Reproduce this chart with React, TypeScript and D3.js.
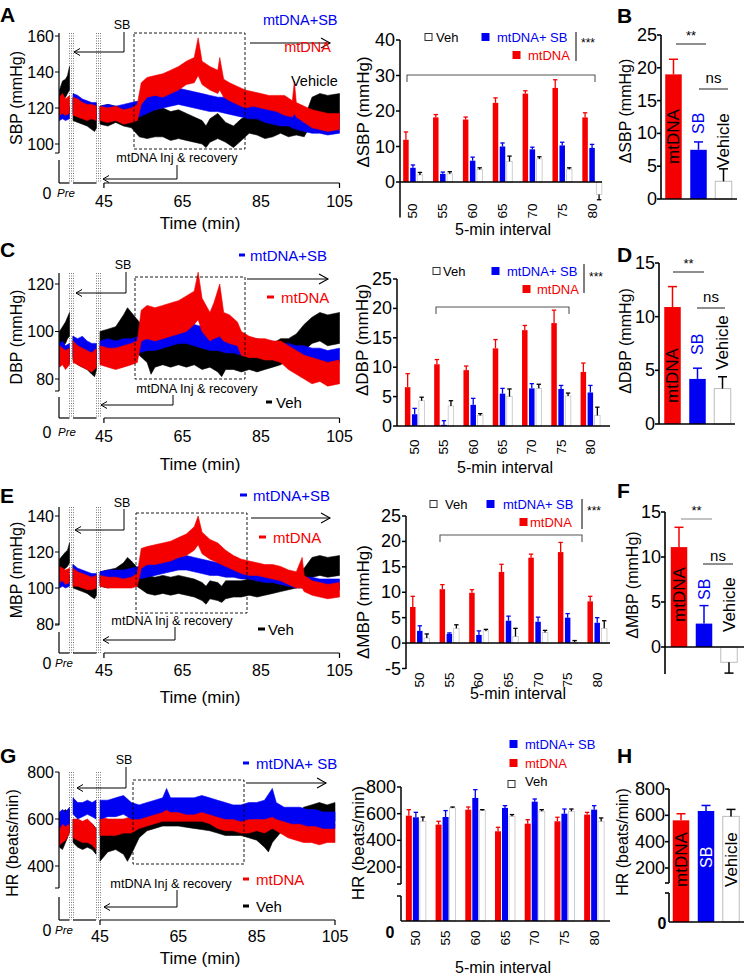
import React from 'react';
import * as d3 from 'd3';

const FONT = "'Liberation Sans', Arial, Helvetica, sans-serif";
const RED = '#f40000';
const BLUE = '#0000f2';
const BLACK = '#000000';

// ---------- data ----------
const intervals = ['50', '55', '60', '65', '70', '75', '80'];
const summaryGroups = ['mtDNA', 'SB', 'Vehicle'];
const timeTicks = [45, 65, 85, 105];
const sbpTicks = [100, 120, 140, 160];
const dbpTicks = [80, 100, 120];
const mbpTicks = [80, 100, 120, 140];
const hrTicks = [400, 600, 800];

// traces: [time, low, high]
const sbpVehTrace = [
  [0, 122, 130], [3, 124, 135], [6, 126, 136], [8, 128, 138], [10, 130, 143],
  [15, 113, 126], [20, 112, 124], [25, 111, 122], [30, 110, 121], [35, 108, 119], [38, 107, 118], [40, 109, 120],
  [44, 111, 121], [46, 110, 122], [48, 112, 121], [50, 110, 120], [52, 109, 121], [54, 104, 116], [56, 103, 118], [58, 104, 119], [60, 104, 120], [62, 102, 118], [64, 103, 119], [66, 102, 117], [68, 101, 115], [70, 100, 113], [71, 98, 110], [72, 101, 114], [74, 103, 117], [76, 101, 112], [78, 98, 110], [80, 102, 114], [82, 106, 116], [84, 105, 117], [86, 103, 115], [88, 104, 114], [90, 106, 116], [92, 104, 113], [94, 105, 112], [96, 104, 114], [98, 112, 126], [100, 115, 128], [102, 113, 127], [105, 114, 128],
];
const sbpSbTrace = [
  [0, 113, 121], [3, 114, 122], [6, 113, 120], [10, 114, 121],
  [15, 117, 128], [20, 118, 127], [25, 116, 125], [30, 117, 124], [35, 115, 123], [40, 114, 123],
  [44, 113, 121], [46, 114, 122], [48, 113, 121], [50, 113, 122], [52, 115, 123], [54, 115, 124], [56, 117, 126], [58, 119, 128], [60, 120, 129], [62, 121, 130], [64, 122, 131], [66, 121, 130], [68, 120, 129], [70, 119, 128], [72, 118, 127], [74, 118, 126], [76, 117, 126], [78, 116, 125], [80, 115, 124], [82, 114, 122], [84, 114, 121], [86, 112, 121], [88, 111, 120], [90, 110, 119], [92, 110, 118], [94, 108, 117], [96, 107, 116], [98, 106, 114], [100, 106, 114], [102, 105, 113], [105, 106, 114],
];
const sbpMtTrace = [
  [0, 116, 126], [3, 117, 128], [6, 116, 125], [10, 117, 127],
  [15, 116, 126], [20, 115, 125], [25, 114, 123], [30, 113, 122], [35, 114, 122], [40, 113, 121],
  [44, 113, 121], [46, 112, 120], [48, 113, 121], [50, 111, 119], [52, 112, 120], [53.5, 113, 122], [54.5, 122, 134], [56, 126, 137], [58, 127, 138], [60, 126, 139], [62, 128, 141], [64, 130, 143], [66, 133, 146], [68, 134, 148], [69, 138, 159], [70, 133, 146], [72, 130, 143], [74, 128, 141], [74.5, 130, 148], [75.5, 126, 136], [77, 124, 134], [79, 122, 132], [81, 120, 130], [83, 121, 129], [85, 120, 128], [87, 119, 127], [89, 118, 127], [91, 116, 127], [93, 115, 124], [93.5, 117, 135], [94, 115, 123], [96, 112, 121], [98, 109, 119], [100, 108, 118], [102, 107, 117], [105, 108, 117],
];

const dbpVehTrace = [
  [0, 92, 100], [3, 94, 102], [6, 95, 104], [8, 97, 106], [10, 98, 108],
  [15, 88, 98], [20, 86, 96], [25, 85, 95], [30, 84, 93], [35, 82, 91], [38, 81, 89], [40, 84, 92],
  [44, 92, 100], [46, 90, 101], [48, 91, 102], [50, 93, 107], [51, 95, 110], [52, 94, 108], [54, 90, 104], [56, 87, 100], [57, 82, 96], [58, 85, 98], [60, 86, 99], [62, 85, 97], [64, 86, 98], [66, 85, 97], [68, 86, 98], [70, 84, 96], [72, 85, 96], [74, 83, 95], [75, 81, 93], [76, 84, 95], [78, 84, 96], [80, 83, 94], [82, 84, 94], [84, 83, 93], [86, 84, 95], [88, 85, 95], [90, 86, 97], [92, 88, 97], [94, 90, 99], [96, 92, 103], [98, 95, 106], [100, 96, 108], [102, 94, 107], [105, 95, 108],
];
const dbpSbTrace = [
  [0, 86, 95], [3, 87, 96], [6, 86, 94], [10, 87, 95],
  [15, 89, 98], [20, 90, 97], [25, 90, 98], [30, 89, 96], [35, 88, 95], [40, 88, 95],
  [44, 88, 96], [46, 89, 97], [48, 89, 96], [50, 89, 97], [52, 90, 97], [54, 91, 98], [56, 92, 99], [58, 92, 100], [60, 93, 101], [62, 94, 102], [64, 95, 103], [66, 95, 104], [68, 94, 103], [70, 93, 102], [72, 92, 101], [74, 92, 100], [76, 91, 99], [78, 91, 98], [80, 90, 98], [82, 90, 97], [84, 90, 97], [86, 89, 96], [88, 89, 96], [90, 88, 95], [92, 88, 95], [94, 87, 94], [96, 87, 94], [98, 86, 93], [100, 86, 93], [102, 86, 92], [105, 87, 93],
];
const dbpMtTrace = [
  [0, 85, 94], [3, 86, 93], [6, 84, 92], [10, 86, 93],
  [15, 87, 96], [20, 86, 94], [25, 85, 93], [30, 84, 92], [35, 83, 91], [40, 85, 93],
  [44, 86, 94], [46, 85, 93], [48, 84, 93], [50, 85, 94], [52, 86, 95], [53.5, 87, 96], [54.5, 96, 109], [56, 97, 111], [58, 96, 110], [60, 97, 111], [62, 98, 112], [64, 99, 113], [66, 100, 115], [68, 103, 117], [69, 105, 125], [70, 100, 114], [72, 96, 108], [73, 97, 112], [74.5, 98, 120], [75.5, 96, 108], [77, 95, 107], [79, 94, 104], [80, 90, 100], [82, 89, 98], [84, 89, 97], [86, 88, 97], [88, 88, 96], [90, 87, 96], [92, 84, 94], [94, 82, 92], [96, 80, 90], [98, 78, 89], [100, 79, 88], [102, 77, 87], [105, 78, 88],
];

const mbpVehTrace = [
  [0, 108, 116], [3, 110, 118], [6, 111, 120], [8, 112, 121], [10, 114, 125],
  [15, 100, 113], [20, 99, 110], [25, 98, 109], [30, 97, 107], [35, 95, 105], [38, 94, 103], [40, 96, 106],
  [44, 101, 109], [46, 100, 110], [48, 101, 111], [50, 103, 114], [51, 104, 117], [52, 103, 115], [54, 100, 110], [56, 97, 107], [58, 96, 106], [60, 97, 107], [62, 96, 106], [64, 97, 107], [66, 96, 106], [68, 95, 105], [70, 93, 103], [71, 91, 101], [72, 94, 104], [74, 93, 103], [75, 92, 101], [76, 94, 104], [78, 95, 104], [80, 95, 104], [82, 96, 105], [84, 95, 104], [86, 96, 105], [88, 97, 106], [90, 98, 107], [92, 99, 107], [94, 100, 108], [96, 102, 111], [98, 106, 117], [100, 107, 118], [102, 106, 117], [105, 107, 118],
];
const mbpSbTrace = [
  [0, 100, 107], [3, 101, 107], [6, 100, 106], [10, 101, 107],
  [15, 103, 113], [20, 103, 111], [25, 102, 110], [30, 102, 109], [35, 101, 108], [40, 101, 108],
  [44, 103, 109], [46, 103, 110], [48, 103, 110], [50, 104, 110], [52, 104, 111], [54, 105, 112], [56, 106, 113], [58, 107, 114], [60, 108, 116], [62, 109, 117], [64, 110, 117], [66, 110, 118], [68, 109, 117], [70, 108, 116], [72, 107, 115], [74, 107, 114], [76, 106, 113], [78, 106, 113], [80, 105, 112], [82, 105, 111], [84, 104, 111], [86, 103, 110], [88, 103, 109], [90, 102, 109], [92, 101, 108], [94, 100, 107], [96, 100, 106], [98, 99, 106], [100, 99, 105], [102, 98, 105], [105, 99, 105],
];
const mbpMtTrace = [
  [0, 103, 112], [3, 104, 111], [6, 102, 110], [10, 103, 111],
  [15, 101, 111], [20, 101, 109], [25, 100, 108], [30, 99, 107], [35, 99, 106], [40, 100, 107],
  [44, 101, 107], [46, 100, 106], [48, 100, 106], [50, 100, 105], [52, 100, 106], [53.5, 101, 108], [54.5, 111, 122], [56, 113, 123], [58, 113, 124], [60, 114, 125], [62, 115, 126], [64, 117, 128], [66, 118, 130], [68, 121, 134], [69, 124, 140], [70, 119, 131], [72, 116, 127], [74, 114, 125], [76, 112, 121], [78, 110, 118], [80, 108, 116], [82, 107, 115], [84, 107, 114], [86, 106, 113], [88, 105, 113], [90, 104, 112], [92, 102, 110], [94, 100, 109], [95.5, 100, 117], [96, 98, 107], [98, 96, 104], [100, 95, 103], [102, 94, 102], [105, 95, 103],
];

const hrVehTrace = [
  [0, 480, 600], [3, 470, 630], [6, 500, 640], [8, 520, 630], [10, 550, 640],
  [15, 500, 600], [20, 480, 590], [25, 470, 580], [30, 480, 590], [35, 470, 580], [39, 450, 560],
  [45, 420, 600], [47, 460, 590], [49, 470, 580], [51, 450, 570], [52, 420, 560], [53, 450, 580], [55, 520, 600], [57, 550, 610], [59, 560, 610], [61, 570, 610], [63, 570, 615], [65, 570, 615], [67, 565, 610], [69, 560, 610], [71, 555, 605], [73, 550, 600], [75, 540, 595], [77, 530, 590], [79, 530, 590], [81, 530, 580], [83, 520, 580], [85, 510, 570], [87, 480, 560], [88, 460, 550], [89, 500, 570], [91, 540, 600], [93, 550, 610], [95, 560, 620], [97, 580, 650], [99, 590, 660], [101, 590, 670], [103, 580, 660], [105, 590, 670],
];
const hrMtTrace = [
  [0, 490, 620], [3, 500, 600], [6, 510, 620], [10, 540, 640],
  [15, 520, 600], [20, 510, 600], [25, 500, 590], [30, 500, 600], [35, 490, 580], [39, 470, 560],
  [45, 530, 610], [47, 530, 600], [49, 530, 600], [51, 540, 600], [53, 540, 610], [55, 560, 630], [57, 570, 640], [59, 580, 650], [61, 590, 660], [63, 590, 670], [65, 590, 670], [67, 590, 670], [69, 590, 670], [71, 590, 670], [73, 580, 660], [75, 560, 640], [77, 550, 630], [79, 550, 620], [81, 540, 610], [83, 540, 610], [85, 550, 620], [87, 540, 610], [89, 560, 640], [91, 540, 620], [93, 520, 600], [95, 510, 590], [97, 500, 580], [99, 500, 580], [101, 490, 570], [103, 500, 580], [105, 500, 580],
];
const hrSbTrace = [
  [0, 560, 630], [3, 580, 640], [6, 570, 630], [10, 580, 650],
  [15, 620, 690], [20, 600, 670], [25, 610, 670], [30, 620, 680], [35, 610, 670], [39, 600, 680],
  [45, 600, 680], [47, 610, 680], [49, 610, 690], [51, 620, 700], [53, 600, 670], [55, 600, 660], [57, 610, 670], [59, 620, 680], [61, 630, 690], [62, 640, 730], [63, 630, 690], [65, 630, 690], [67, 620, 690], [69, 620, 690], [71, 630, 700], [73, 620, 690], [75, 610, 680], [77, 600, 670], [79, 600, 660], [81, 590, 660], [83, 600, 670], [85, 600, 670], [87, 600, 680], [89, 610, 730], [90, 600, 670], [92, 590, 650], [94, 580, 650], [96, 580, 650], [98, 570, 640], [100, 570, 640], [102, 560, 630], [105, 560, 630],
];

// 5-min interval bars (mean, SEM)
const sbpMt = [11.9, 18.2, 17.6, 22.3, 24.9, 26.5, 18.2];
const sbpMtSem = [2.2, 0.8, 0.7, 1.4, 0.8, 2.3, 1.3];
const sbpSb = [4.0, 2.3, 6.0, 10.0, 9.2, 10.3, 9.6];
const sbpSbSem = [0.8, 0.5, 1.0, 1.0, 0.6, 0.9, 1.0];
const sbpVeh = [2.0, 2.3, 3.5, 5.8, 6.5, 3.6, -3.5];
const sbpVehSem = [0.7, 0.6, 0.5, 1.5, 0.6, 0.4, 1.5];

const dbpMt = [6.6, 10.5, 9.5, 13.2, 16.3, 17.5, 9.2];
const dbpMtSem = [2.3, 0.8, 0.7, 1.5, 0.8, 2.2, 1.5];
const dbpSb = [2.0, 0.2, 3.6, 5.5, 6.4, 6.3, 5.7];
const dbpSbSem = [1.0, 0.7, 1.1, 0.9, 0.8, 0.6, 1.2];
const dbpVeh = [4.3, 3.4, 1.8, 5.0, 6.4, 5.1, 1.8];
const dbpVehSem = [0.6, 0.9, 0.3, 1.3, 0.7, 0.5, 1.4];

const mbpMt = [7.1, 10.6, 9.9, 14.0, 16.8, 17.9, 8.2];
const mbpMtSem = [2.1, 0.9, 0.6, 1.5, 0.7, 1.9, 1.0];
const mbpSb = [2.4, 1.8, 1.6, 4.4, 4.2, 5.0, 4.0];
const mbpSbSem = [1.0, 0.2, 0.8, 0.9, 0.9, 0.8, 1.0];
const mbpVeh = [1.0, 2.9, 2.4, 1.3, 2.1, 0.2, 2.9];
const mbpVehSem = [0.8, 0.7, 0.3, 1.6, 0.4, 0.3, 1.5];

const hrMt = [585, 518, 630, 468, 525, 543, 593];
const hrMtSem = [45, 25, 20, 30, 30, 30, 17];
const hrSb = [573, 575, 718, 643, 690, 600, 630];
const hrSbSem = [37, 48, 62, 17, 20, 35, 30];
const hrVeh = [543, 643, 623, 580, 618, 618, 543];
const hrVehSem = [32, 7, 7, 13, 12, 17, 25];

// summary bars: mtDNA, SB, Vehicle
const sbpSum = [19.0, 7.5, 2.7];
const sbpSumSem = [2.3, 1.2, 1.9];
const dbpSum = [10.9, 4.2, 3.3];
const dbpSumSem = [1.9, 1.0, 1.1];
const mbpSum = [11.1, 2.6, -1.7];
const mbpSumSem = [2.2, 2.0, 1.2];
const hrSum = [562, 633, 592];
const hrSumSem = [50, 42, 53];

// ---------- helpers ----------
function T({ x, y, children, size = 16, anchor = 'middle', color = BLACK, rot = false, weight = 'normal', italic = false, base = 'central' }: any) {
  return (
    <text x={x} y={y} fontSize={size} textAnchor={anchor} fill={color} fontWeight={weight}
      fontStyle={italic ? 'italic' : 'normal'} dominantBaseline={base}
      transform={rot ? `rotate(-90 ${x} ${y})` : undefined} fontFamily={FONT}>{children}</text>
  );
}
const L = ({ x1, y1, x2, y2, w = 1, c = BLACK, dash, crisp }: any) => (
  <line x1={x1} y1={y1} x2={x2} y2={y2} stroke={c} strokeWidth={w} strokeDasharray={dash}
    shapeRendering={crisp ? 'crispEdges' : undefined} />
);
const arrowL = (x: number, y: number) => `M${x + 6},${y - 3.5}L${x},${y}L${x + 6},${y + 3.5}`;
const arrowR = (x: number, y: number) => `M${x - 9},${y - 5}L${x},${y}L${x - 9},${y + 5}`;

// ---------- trace panel ----------
function TracePanel({ c }: any) {
  const x = d3.scaleLinear().domain(c.xDomain).range(c.xRange);
  const y = d3.scaleLinear().domain(c.yDomain).range(c.yRange);
  const area = d3.area<any>().x((d) => x(d[0])).y0((d) => y(d[1])).y1((d) => y(d[2]));
  const split = (data: any[]) => [
    data.filter((d) => d[0] <= 10),
    data.filter((d) => d[0] >= 15 && d[0] <= 40),
    data.filter((d) => d[0] >= 44),
  ];
  const ax = c.axisX;
  const [rx0, ry0, rx1, ry1] = c.rect;
  return (
    <g>
      <T x={c.letterX} y={c.letterY} size={21} weight="bold" anchor="start" base="alphabetic">{c.letter}</T>
      {c.series.map((s: any, i: number) =>
        split(s.data).map((seg, j) => (
          <path key={i + '-' + j} d={area(seg) || ''} fill={s.color} stroke={s.color} strokeWidth={0.6} />
        ))
      )}
      {c.dotted.map((dx: number, i: number) => (
        <L key={'d' + i} x1={dx + 0.5} x2={dx + 0.5} y1={c.axisTop} y2={c.bottom} w={0.6} dash="1,1.5" c="#222" />
      ))}
      <rect x={rx0} y={ry0} width={rx1 - rx0} height={ry1 - ry0} fill="none" stroke={BLACK} strokeWidth={0.9} strokeDasharray="3,2" />
      <L x1={c.arrowX[0]} x2={c.arrowX[1]} y1={c.arrowY} y2={c.arrowY} w={1.1} />
      <path d={arrowR(c.arrowX[1], c.arrowY)} fill="none" stroke={BLACK} strokeWidth={1.1} />
      {/* SB annotation */}
      <T x={c.sb.tx} y={c.sb.ty} size={12.5}>SB</T>
      <path d={`M${c.sb.lx},${c.sb.y1}V${c.sb.y2}H${c.sb.to}`} fill="none" stroke={BLACK} strokeWidth={1} />
      <path d={arrowL(c.sb.to, c.sb.y2)} fill="none" stroke={BLACK} strokeWidth={1} />
      {/* injection annotation */}
      <T x={c.inj.tx} y={c.inj.ty} size={12.7}>mtDNA Inj &amp; recovery</T>
      <path d={`M${c.inj.lx},${c.inj.y1}V${c.inj.y2}H${c.inj.to}`} fill="none" stroke={BLACK} strokeWidth={1} />
      <path d={arrowL(c.inj.to, c.inj.y2)} fill="none" stroke={BLACK} strokeWidth={1} />
      {/* y axis */}
      <L x1={ax} x2={ax} y1={c.axisTop} y2={c.break1} w={1.2} />
      <L x1={ax - 4} x2={ax} y1={c.break1} y2={c.break1} w={1} />
      <L x1={ax} x2={ax} y1={c.break2} y2={c.bottom} w={1.2} />
      {c.yTicks.map((t: number) => (
        <g key={'t' + t}>
          <L x1={ax - 4} x2={ax} y1={y(t)} y2={y(t)} w={1} />
          <T x={ax - 5} y={y(t)} anchor="end" size={16}>{t}</T>
        </g>
      ))}
      <T x={c.ylabelX} y={c.ylabelY} rot size={16}>{c.ylabel}</T>
      {/* x axis segments */}
      <L x1={ax} x2={x(10)} y1={c.bottom} y2={c.bottom} w={1.2} />
      <L x1={x(15)} x2={x(c.sbEnd)} y1={c.bottom} y2={c.bottom} w={1.2} />
      <L x1={x(45)} x2={x(105)} y1={c.bottom} y2={c.bottom} w={1.2} />
      <L x1={x(45)} x2={x(45)} y1={c.bottom} y2={c.bottom + 5} w={1.2} />
      <L x1={x(105)} x2={x(105)} y1={c.bottom} y2={c.bottom + 5} w={1.2} />
      <T x={47} y={c.zeroY} size={16}>0</T>
      <T x={c.preX} y={c.zeroY} size={11.5} italic>Pre</T>
      {timeTicks.map((t) => (
        <T key={'x' + t} x={x(t)} y={c.tickY} size={16}>{t}</T>
      ))}
      <T x={200} y={c.titleY} size={17}>Time (min)</T>
      {c.legends.map((lg: any, i: number) => (
        <g key={'lg' + i}>
          {lg.dash && <L x1={lg.dash[0]} x2={lg.dash[1]} y1={lg.y} y2={lg.y} w={3} c={lg.color} />}
          <T x={lg.x} y={lg.y} anchor={lg.anchor || 'start'} color={lg.color} size={c.legendSize}>{lg.text}</T>
        </g>
      ))}
    </g>
  );
}

// ---------- grouped bar panel ----------
function GroupPanel({ c }: any) {
  const band = d3.scaleBand().domain(intervals).range(c.bandRange);
  const y = d3.scaleLinear().domain(c.yDomain).range(c.yRange);
  const base = c.baseline !== undefined ? c.baseline : y(0);
  const ax = c.axisX;
  const series = [
    { v: c.mt, s: c.mtSem, fill: RED, stroke: 'none', ec: RED, off: -7 },
    { v: c.sb, s: c.sbSem, fill: BLUE, stroke: 'none', ec: BLUE, off: 0 },
    { v: c.veh, s: c.vehSem, fill: '#fff', stroke: '#c4c4c4', ec: BLACK, off: 7 },
  ];
  const bw = c.barW;
  return (
    <g>
      {series.map((se, si) =>
        intervals.map((k, i) => {
          const cx = (band(k) as number) + band.bandwidth() / 2 + se.off;
          const v = se.v[i];
          const top = y(v);
          const e = v + (v < 0 ? -se.s[i] : se.s[i]);
          const ey = y(e);
          return (
            <g key={si + '-' + i}>
              <rect x={cx - bw / 2} y={Math.min(top, base)} width={bw} height={Math.abs(base - top)} fill={se.fill} stroke={se.stroke} strokeWidth={0.8} />
              <L x1={cx} x2={cx} y1={top} y2={ey} w={1.3} c={se.ec} />
              <L x1={cx - 2.2} x2={cx + 2.2} y1={ey} y2={ey} w={1.3} c={se.ec} />
            </g>
          );
        })
      )}
      {/* axes */}
      {c.break1 ? (
        <g>
          <L x1={ax} x2={ax} y1={c.axisTop} y2={c.break1} w={1.5} />
          <L x1={ax - 4} x2={ax} y1={c.break1} y2={c.break1} w={1.5} />
          <L x1={ax} x2={ax} y1={c.break2} y2={c.axisBottom} w={1.5} />
          <L x1={ax - 4} x2={ax} y1={c.break2} y2={c.break2} w={1.5} />
          <T x={c.zero[0]} y={c.zero[1]} size={16} weight="bold">0</T>
        </g>
      ) : (
        <L x1={ax} x2={ax} y1={c.axisTop} y2={c.axisBottom} w={1.5} />
      )}
      <L x1={ax} x2={c.lineEnd} y1={base} y2={base} w={1.5} />
      {c.yTicks.map((t: number) => (
        <g key={'t' + t}>
          <L x1={ax - 4} x2={ax} y1={y(t)} y2={y(t)} w={1.5} />
          <T x={ax - 5} y={y(t)} anchor="end" size={18}>{t}</T>
        </g>
      ))}
      {intervals.map((k) => (
        <T key={'l' + k} x={(band(k) as number) + band.bandwidth() / 2} y={c.labelY} rot size={13.5}>{k}</T>
      ))}
      <T x={c.titleX} y={c.titleY} size={16}>5-min interval</T>
      <T x={c.ylabelX} y={c.ylabelY} rot size={17}>{c.ylabel}</T>
      {/* legend */}
      {c.legend.map((lg: any, i: number) => (
        <g key={'lg' + i}>
          <rect x={lg.bx} y={lg.by - 3.5} width={7} height={7} fill={lg.fill} stroke={lg.stroke} strokeWidth={1} />
          <T x={lg.tx} y={lg.ty} anchor="start" size={13} color={lg.color}>{lg.text}</T>
        </g>
      ))}
      {c.vline && <L x1={c.vline[0]} x2={c.vline[0]} y1={c.vline[1]} y2={c.vline[2]} w={1} />}
      {c.stars && <T x={c.stars[0]} y={c.stars[1]} anchor="start" size={12}>***</T>}
      {c.bracket && (
        <path d={`M${c.bracket[0]},${c.bracket[2] + 7}V${c.bracket[2]}H${c.bracket[1]}V${c.bracket[2] + 7}`} fill="none" stroke="#555" strokeWidth={1.1} />
      )}
    </g>
  );
}

// ---------- summary panel ----------
function SummaryPanel({ c }: any) {
  const band = d3.scaleBand().domain(summaryGroups).range(c.bandRange).paddingInner(0.34).paddingOuter(0.17);
  const y = d3.scaleLinear().domain(c.yDomain).range(c.yRange);
  const base = c.baseline !== undefined ? c.baseline : y(0);
  const ax = c.axisX;
  const fills = [RED, BLUE, '#fff'];
  const strokes = ['none', 'none', '#bdbdbd'];
  const ecs = [RED, BLUE, BLACK];
  const textColors = [BLACK, c.sbTextColor || BLUE, BLACK];
  const bw = band.bandwidth();
  return (
    <g>
      <T x={c.letterX} y={c.letterY} size={21} weight="bold" anchor="start" base="alphabetic">{c.letter}</T>
      {summaryGroups.map((g, i) => {
        const cx = (band(g) as number) + bw / 2;
        const v = c.vals[i];
        const top = y(v);
        const e = v + (v < 0 ? -c.sems[i] : c.sems[i]);
        const ey = y(e);
        return (
          <g key={g}>
            <rect x={cx - bw / 2} y={Math.min(top, base)} width={bw} height={Math.abs(base - top)} fill={fills[i]} stroke={strokes[i]} strokeWidth={1} />
            <L x1={cx} x2={cx} y1={top} y2={ey} w={1.5} c={ecs[i]} />
            <L x1={cx - 4.5} x2={cx + 4.5} y1={ey} y2={ey} w={1.5} c={ecs[i]} />
            <T x={cx + (c.textDx ? c.textDx[i] : 0)} y={c.textY[i]} rot anchor="start" size={i === 1 ? 16 : 17} color={textColors[i]}>{g}</T>
          </g>
        );
      })}
      {c.break1 ? (
        <g>
          <L x1={ax} x2={ax} y1={c.axisTop} y2={c.break1} w={1.6} />
          <L x1={ax - 4} x2={ax} y1={c.break1} y2={c.break1} w={1.6} />
          <L x1={ax} x2={ax} y1={c.break2} y2={c.axisBottom} w={1.6} />
          <L x1={ax - 4} x2={ax} y1={c.break2} y2={c.break2} w={1.6} />
          <T x={c.zero[0]} y={c.zero[1]} size={16} weight="bold">0</T>
        </g>
      ) : (
        <L x1={ax} x2={ax} y1={c.axisTop} y2={c.axisBottom} w={1.6} />
      )}
      <L x1={ax} x2={c.lineEnd} y1={base} y2={base} w={1.6} />
      {c.yTicks.map((t: number) => (
        <g key={'t' + t}>
          <L x1={ax - 4} x2={ax} y1={y(t)} y2={y(t)} w={1.6} />
          <T x={ax - 4} y={y(t)} anchor="end" size={18}>{t}</T>
        </g>
      ))}
      <T x={c.ylabelX} y={c.ylabelY} rot size={16}>{c.ylabel}</T>
      {c.sig &&
        c.sig.map((s: any, i: number) => (
          <g key={'s' + i}>
            <L x1={s.x1} x2={s.x2} y1={s.y} y2={s.y} w={1.2} c={s.c || '#444'} />
            <T x={(s.x1 + s.x2) / 2} y={s.ty} size={s.t === 'ns' ? 15 : 13}>{s.t}</T>
          </g>
        ))}
    </g>
  );
}

// ---------- configs (layout) ----------
const traceA = {
  letter: 'A', letterX: 0, letterY: 22,
  axisX: 59, axisTop: 33, break1: 153, break2: 160, bottom: 183,
  yDomain: [100, 160], yRange: [144, 36], yTicks: sbpTicks,
  xDomain: [0, 10, 15, 40, 44, 105], xRange: [59.5, 69.5, 73, 96.5, 100, 339.5], sbEnd: 40,
  dotted: [69, 71, 73, 96, 98, 100],
  rect: [134, 33, 245, 149], arrowY: 43, arrowX: [250, 330],
  sb: { tx: 122, ty: 25, lx: 124, y1: 32, y2: 52, to: 74 },
  inj: { tx: 177, ty: 158, lx: 177, y1: 165, y2: 179, to: 103 },
  ylabel: 'SBP (mmHg)', ylabelX: 16, ylabelY: 98,
  zeroY: 193, preX: 66, tickY: 201, titleY: 223,
  legendSize: 14.5,
  legends: [
    { text: 'mtDNA+SB', color: BLUE, x: 263, y: 20 },
    { text: 'mtDNA', color: RED, x: 331, y: 47, anchor: 'end' },
    { text: 'Vehicle', color: BLACK, x: 291, y: 81 },
  ],
  series: [
    { data: sbpVehTrace, color: BLACK },
    { data: sbpSbTrace, color: BLUE },
    { data: sbpMtTrace, color: RED },
  ],
};
const traceC = {
  letter: 'C', letterX: 0, letterY: 257,
  axisX: 59, axisTop: 273, break1: 391, break2: 397, bottom: 418,
  yDomain: [80, 120], yRange: [379, 284], yTicks: dbpTicks,
  xDomain: [0, 10, 15, 40, 44, 105], xRange: [59.5, 69.5, 73, 96.5, 100, 339.5], sbEnd: 40,
  dotted: [69, 71, 73, 96, 98, 100],
  rect: [135, 277, 245, 379], arrowY: 279, arrowX: [247, 328],
  sb: { tx: 123, ty: 265, lx: 126, y1: 272, y2: 293, to: 76 },
  inj: { tx: 197, ty: 389, lx: 173, y1: 395, y2: 405, to: 101 },
  ylabel: 'DBP (mmHg)', ylabelX: 16, ylabelY: 337,
  zeroY: 432, preX: 67, tickY: 436, titleY: 464,
  legendSize: 15,
  legends: [
    { text: 'mtDNA+SB', color: BLUE, x: 250, y: 255, dash: [239, 245] },
    { text: 'mtDNA', color: RED, x: 281, y: 297, dash: [267, 274] },
    { text: 'Veh', color: BLACK, x: 276, y: 402, dash: [266, 272] },
  ],
  series: [
    { data: dbpVehTrace, color: BLACK },
    { data: dbpSbTrace, color: BLUE },
    { data: dbpMtTrace, color: RED },
  ],
};
const traceE = {
  letter: 'E', letterX: 0, letterY: 503,
  axisX: 59, axisTop: 507, break1: 625, break2: 632, bottom: 653,
  yDomain: [80, 140], yRange: [624, 516], yTicks: mbpTicks,
  xDomain: [0, 10, 15, 40, 44, 105], xRange: [59.5, 69.5, 73, 96.5, 100, 339.5], sbEnd: 40,
  dotted: [69, 71, 73, 96, 98, 100],
  rect: [136, 513, 247, 613], arrowY: 518, arrowX: [251, 330],
  sb: { tx: 122, ty: 503, lx: 124, y1: 509, y2: 530, to: 75 },
  inj: { tx: 172, ty: 621, lx: 175, y1: 627, y2: 640, to: 103 },
  ylabel: 'MBP (mmHg)', ylabelX: 16, ylabelY: 570,
  zeroY: 663, preX: 64, tickY: 670, titleY: 697,
  legendSize: 15,
  legends: [
    { text: 'mtDNA+SB', color: BLUE, x: 253, y: 495, dash: [240, 247] },
    { text: 'mtDNA', color: RED, x: 273, y: 537, dash: [259, 266] },
    { text: 'Veh', color: BLACK, x: 268, y: 629, dash: [258, 265] },
  ],
  series: [
    { data: mbpVehTrace, color: BLACK },
    { data: mbpSbTrace, color: BLUE },
    { data: mbpMtTrace, color: RED },
  ],
};
const traceG = {
  letter: 'G', letterX: 0, letterY: 763,
  axisX: 59, axisTop: 772, break1: 888, break2: 897, bottom: 920,
  yDomain: [400, 800], yRange: [866, 772], yTicks: hrTicks,
  xDomain: [0, 10, 15, 39, 45, 105], xRange: [59.5, 69.5, 73, 96, 100, 335], sbEnd: 39,
  dotted: [69, 71, 73, 96, 98, 100],
  rect: [133, 780, 244, 864], arrowY: 783, arrowX: [246, 326],
  sb: { tx: 124, ty: 760, lx: 126, y1: 767, y2: 788, to: 77 },
  inj: { tx: 171, ty: 884, lx: 177, y1: 890, y2: 907, to: 104 },
  ylabel: 'HR (beats/min)', ylabelX: 12, ylabelY: 843,
  zeroY: 930, preX: 64, tickY: 936, titleY: 958,
  legendSize: 15,
  legends: [
    { text: 'mtDNA+ SB', color: BLUE, x: 256, y: 763, dash: [243, 249] },
    { text: 'mtDNA', color: RED, x: 256, y: 879, dash: [243, 249] },
    { text: 'Veh', color: BLACK, x: 256, y: 906, dash: [243, 249] },
  ],
  series: [
    { data: hrVehTrace, color: BLACK },
    { data: hrMtTrace, color: RED },
    { data: hrSbTrace, color: BLUE },
  ],
};

const bpLegend = (veh: number[], sb: number[], mt: number[]) => [
  { bx: veh[0], by: veh[1], tx: veh[2], ty: veh[1], fill: '#fff', stroke: '#333', text: 'Veh', color: BLACK },
  { bx: sb[0], by: sb[1], tx: sb[2], ty: sb[1], fill: BLUE, stroke: BLUE, text: 'mtDNA+ SB', color: BLUE },
  { bx: mt[0], by: mt[1], tx: mt[2], ty: mt[1], fill: RED, stroke: RED, text: 'mtDNA', color: RED },
];

const midA = {
  axisX: 400, yDomain: [-10, 40], yRange: [217.5, 40], yTicks: [0, 10, 20, 30, 40], axisTop: 40, axisBottom: 217.5, lineEnd: 602,
  bandRange: [398, 607], barW: 5.5, labelY: 211, titleX: 503, titleY: 229,
  ylabel: 'ΔSBP (mmHg)', ylabelX: 363, ylabelY: 112,
  mt: sbpMt, mtSem: sbpMtSem, sb: sbpSb, sbSem: sbpSbSem, veh: sbpVeh, vehSem: sbpVehSem,
  legend: bpLegend([425, 37, 436], [482, 37, 497], [513, 55, 528]),
  vline: [576, 32, 61], stars: [581, 43], bracket: [407, 595, 75],
};
const midC = {
  axisX: 397, yDomain: [0, 25], yRange: [426, 279], yTicks: [0, 5, 10, 15, 20, 25], axisTop: 279, axisBottom: 426, lineEnd: 610,
  bandRange: [400, 605], barW: 5.5, labelY: 447, titleX: 505, titleY: 467,
  ylabel: 'ΔDBP (mmHg)', ylabelX: 362, ylabelY: 340,
  mt: dbpMt, mtSem: dbpMtSem, sb: dbpSb, sbSem: dbpSbSem, veh: dbpVeh, vehSem: dbpVehSem,
  legend: bpLegend([433, 271, 443], [492, 271, 507], [523, 289, 537]),
  vline: [584, 264, 293], stars: [589, 277], bracket: [436, 569, 307],
};
const midE = {
  axisX: 406, yDomain: [-5, 25], yRange: [668.5, 516], yTicks: [-5, 0, 5, 10, 15, 20, 25], axisTop: 516, axisBottom: 669, lineEnd: 610,
  bandRange: [405, 612], barW: 5.5, labelY: 680, titleX: 518, titleY: 693,
  ylabel: 'ΔMBP (mmHg)', ylabelX: 363, ylabelY: 602,
  mt: mbpMt, mtSem: mbpMtSem, sb: mbpSb, sbSem: mbpSbSem, veh: mbpVeh, vehSem: mbpVehSem,
  legend: bpLegend([430, 504, 445], [487, 504, 503], [520, 522, 530]),
  vline: [582, 499, 529], stars: [587, 511], bracket: [440, 582, 535],
};
const midG = {
  axisX: 401, yDomain: [200, 800], yRange: [867, 787], yTicks: [200, 400, 600, 800], axisTop: 787, axisBottom: 921,
  break1: 884, break2: 896, baseline: 921, zero: [390, 932], lineEnd: 610,
  bandRange: [401, 609], barW: 6, labelY: 938, titleX: 503, titleY: 967,
  ylabel: 'HR (beats/min)', ylabelX: 358, ylabelY: 843,
  mt: hrMt, mtSem: hrMtSem, sb: hrSb, sbSem: hrSbSem, veh: hrVeh, vehSem: hrVehSem,
  legend: [
    { bx: 510, by: 744, tx: 525, ty: 744, fill: BLUE, stroke: BLUE, text: 'mtDNA+ SB', color: BLUE },
    { bx: 510, by: 763, tx: 525, ty: 763, fill: RED, stroke: RED, text: 'mtDNA', color: RED },
    { bx: 508, by: 784, tx: 525, ty: 781, fill: '#fff', stroke: '#333', text: 'Veh', color: BLACK },
  ],
};

const sumB = {
  letter: 'B', letterX: 617, letterY: 23,
  axisX: 661, yDomain: [0, 25], yRange: [199, 35], yTicks: [0, 5, 10, 15, 20, 25], axisTop: 35, axisBottom: 199, lineEnd: 737,
  bandRange: [661, 736], vals: sbpSum, sems: sbpSumSem,
  ylabel: 'ΔSBP (mmHg)', ylabelX: 625, ylabelY: 111,
  sig: [{ t: '**', x1: 676, x2: 706, y: 44, ty: 35 }, { t: 'ns', x1: 699, x2: 728, y: 89, ty: 77 }],
  textY: [164, 134, 168],
};
const sumD = {
  letter: 'D', letterX: 617, letterY: 262,
  axisX: 659, yDomain: [0, 15], yRange: [424, 263], yTicks: [0, 5, 10, 15], axisTop: 263, axisBottom: 424, lineEnd: 735,
  bandRange: [660, 735], vals: dbpSum, sems: dbpSumSem,
  ylabel: 'ΔDBP (mmHg)', ylabelX: 625, ylabelY: 341,
  sig: [{ t: '**', x1: 673, x2: 704, y: 272, ty: 263 }, { t: 'ns', x1: 697, x2: 725, y: 308, ty: 296 }],
  textY: [403, 355, 370],
};
const sumF = {
  letter: 'F', letterX: 617, letterY: 498,
  axisX: 665, yDomain: [-3, 15], yRange: [674, 512], yTicks: [0, 5, 10, 15], axisTop: 512, axisBottom: 674, lineEnd: 744,
  bandRange: [666.5, 741.5], vals: mbpSum, sems: mbpSumSem,
  ylabel: 'ΔMBP (mmHg)', ylabelX: 632, ylabelY: 585,
  sig: [{ t: '**', x1: 681, x2: 712, y: 519, ty: 510, c: '#999' }, { t: 'ns', x1: 703, x2: 733, y: 564, ty: 555 }],
  textY: [622, 600, 632],
};
const sumH = {
  letter: 'H', letterX: 617, letterY: 763,
  axisX: 669, yDomain: [200, 800], yRange: [868, 789], yTicks: [200, 400, 600, 800], axisTop: 789, axisBottom: 922,
  break1: 883, break2: 893, baseline: 922, zero: [662, 923], lineEnd: 744,
  bandRange: [668.5, 743.5], vals: hrSum, sems: hrSumSem,
  ylabel: 'HR (beats/min)', ylabelX: 622, ylabelY: 842,
  textY: [887, 868, 887], sbTextColor: '#fff',
};

export default function App() {
  return (
    <svg width={744} height={979} style={{ position: 'absolute', left: 0, top: 0, background: '#fff' }} fontFamily={FONT}>
      <rect x={0} y={0} width={744} height={979} fill="#fff" />
      <TracePanel c={traceA} />
      <TracePanel c={traceC} />
      <TracePanel c={traceE} />
      <TracePanel c={traceG} />
      <GroupPanel c={midA} />
      <GroupPanel c={midC} />
      <GroupPanel c={midE} />
      <GroupPanel c={midG} />
      <SummaryPanel c={sumB} />
      <SummaryPanel c={sumD} />
      <SummaryPanel c={sumF} />
      <SummaryPanel c={sumH} />
    </svg>
  );
}
